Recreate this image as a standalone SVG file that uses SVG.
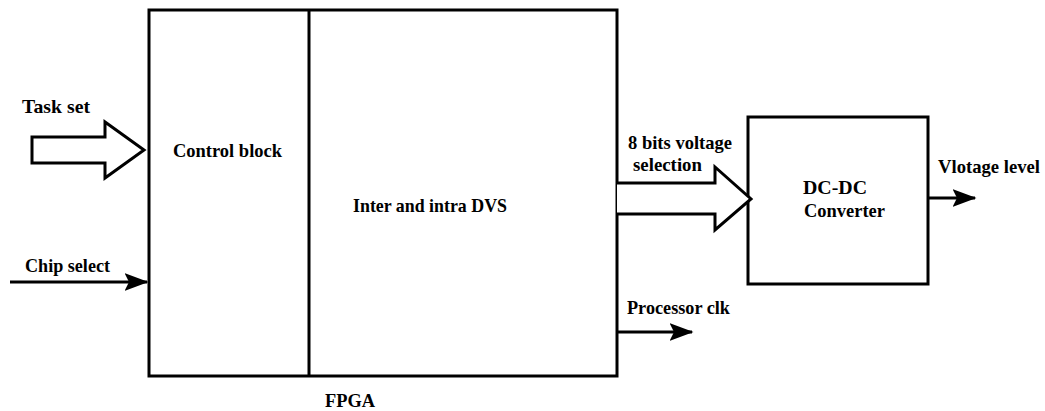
<svg xmlns="http://www.w3.org/2000/svg" width="1045" height="411" viewBox="0 0 1045 411">
<style>
.box{fill:#fff;stroke:#000;stroke-width:3}
.ln{fill:none;stroke:#000;stroke-width:3}
.hollow{fill:#fff;stroke:#000;stroke-width:3;stroke-linejoin:miter}
text{font-family:'Liberation Serif','DejaVu Serif',serif;font-weight:bold;font-size:19px;fill:#000}
</style>
<defs>
<marker id="ah" markerWidth="8" markerHeight="6" refX="7.5" refY="3" orient="auto" markerUnits="strokeWidth">
<path d="M0,0 L8,3 L0,6 L1.5,3 Z" fill="#000"/>
</marker>
</defs>
<rect width="1045" height="411" fill="#fff"/>
<g id="fpga">
<rect class="box" x="149" y="10" width="468" height="366"/>
<line class="ln" x1="309" y1="10" x2="309" y2="376"/>
<text x="325" y="407" textLength="50" lengthAdjust="spacingAndGlyphs">FPGA</text>
</g>
<g id="control-block">
<text x="173" y="157" textLength="109" lengthAdjust="spacingAndGlyphs">Control block</text>
</g>
<g id="dvs">
<text x="353" y="212" textLength="154" lengthAdjust="spacingAndGlyphs">Inter and intra DVS</text>
</g>
<g id="dcdc">
<rect class="box" x="748" y="117" width="180" height="167"/>
<text x="803" y="194" textLength="64" lengthAdjust="spacingAndGlyphs">DC-DC</text>
<text x="804" y="217" textLength="81" lengthAdjust="spacingAndGlyphs">Converter</text>
</g>
<g id="connectors">
<path class="hollow" d="M32,137 L105,137 L105,122 L144,150 L105,178 L105,163 L32,163 Z"/>
<line class="ln" x1="10" y1="282" x2="147" y2="282" marker-end="url(#ah)"/>
<path class="hollow" d="M617,183 L715,183 L715,167 L751,199 L715,230 L715,214 L617,214"/>
<line class="ln" x1="617" y1="332" x2="692" y2="332" marker-end="url(#ah)"/>
<line class="ln" x1="928" y1="198" x2="975" y2="198" marker-end="url(#ah)"/>
</g>
<g id="labels">
<text x="22" y="113" textLength="68" lengthAdjust="spacingAndGlyphs">Task set</text>
<text x="25" y="272" textLength="85" lengthAdjust="spacingAndGlyphs">Chip select</text>
<text x="628" y="149" textLength="104" lengthAdjust="spacingAndGlyphs">8 bits voltage</text>
<text x="633" y="171" textLength="69" lengthAdjust="spacingAndGlyphs">selection</text>
<text x="627" y="314" textLength="103" lengthAdjust="spacingAndGlyphs">Processor clk</text>
<text x="938" y="173" textLength="102" lengthAdjust="spacingAndGlyphs">Vlotage level</text>
</g>
</svg>
